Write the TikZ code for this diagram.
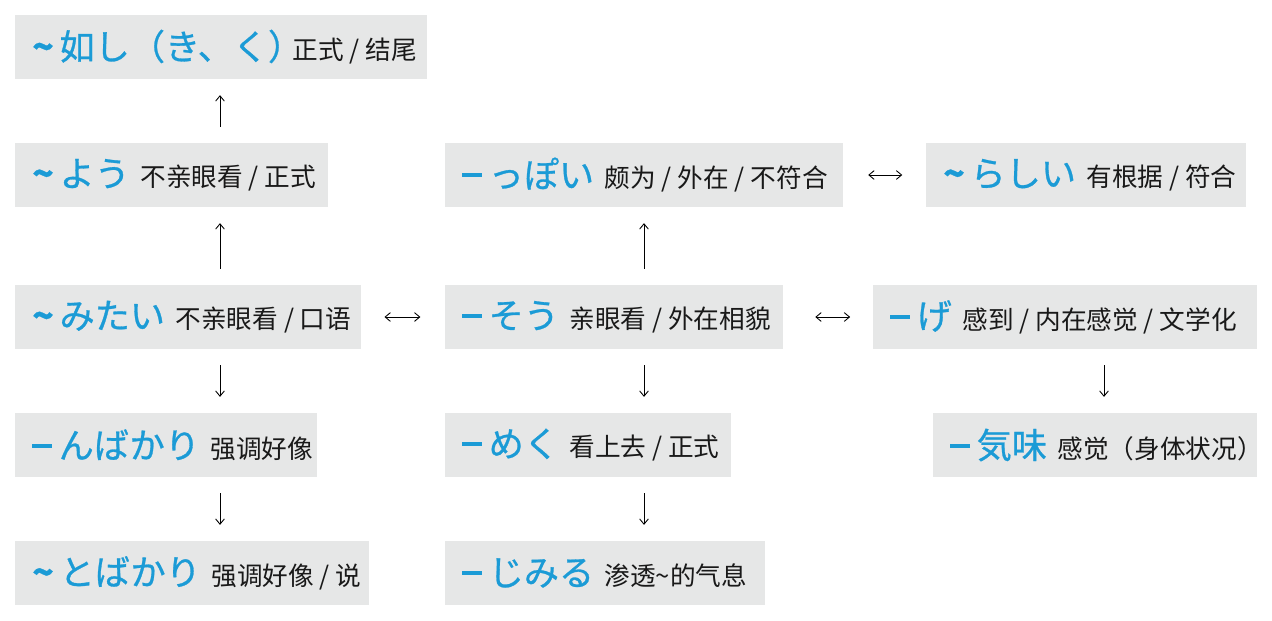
\documentclass[tikz,border=0pt]{standalone}
\usepackage{fontspec}
\setmainfont{Noto Sans CJK SC}
\newfontfamily\jpfont{Noto Sans CJK JP}[FakeBold=0.8]
\newfontfamily\scfont{Noto Sans CJK SC}
\usetikzlibrary{positioning,calc,arrows.meta}
\definecolor{kanablue}{RGB}{27,155,214}
\definecolor{boxgray}{RGB}{230,231,231}
\newcommand{\kana}[1]{{\jpfont\fontsize{20}{22}\selectfont\color{kanablue}#1}}
\newcommand{\expl}[1]{{\scfont\fontsize{14.6}{17}\selectfont\color{black!90}#1}}
\newcommand{\tl}{{\bfseries\textasciitilde}\,}
\newcommand{\ds}{\rule[0.3em]{0.55em}{0.11em}\hspace{0.2em}}
\newcommand{\gap}{\hspace{6pt}}
\tikzset{
  entry/.style={fill=boxgray, anchor=west, minimum height=1.28cm, inner xsep=0.34cm, align=left},
  link/.style={-{Straight Barb[length=3pt,width=5pt]}, line width=0.5pt, shorten >=9pt, shorten <=9pt},
  twoway/.style={{Straight Barb[length=3pt,width=5pt]}-{Straight Barb[length=3pt,width=5pt]}, line width=0.5pt}
}
\begin{document}
\begin{tikzpicture}[x=0.02cm, y=-0.02cm]
    \useasboundingbox (0,0) rectangle (1272,620);
    % Left column
    \node[entry, text width=7.56cm] (gotoshi) at (15,47) {\mbox{\kana{\tl 如し（き、く）\hspace{-0.3em}}\expl{正式 / 结尾}}};
    \node[entry, text width=5.58cm] (you) at (15,175) {\mbox{\kana{\tl よう}\gap\expl{不亲眼看 / 正式}}};
    \node[entry, text width=6.24cm] (mitai) at (15,317) {\mbox{\kana{\tl みたい}\gap\expl{不亲眼看 / 口语}}};
    \node[entry, text width=5.36cm] (nbakari) at (15,445) {\mbox{\kana{\ds んばかり}\gap\expl{强调好像}}};
    \node[entry, text width=6.40cm] (tobakari) at (15,573) {\mbox{\kana{\tl とばかり}\gap\expl{强调好像 / 说}}};
    % Middle column
    \node[entry, text width=7.28cm] (ppoi) at (445,175) {\mbox{\kana{\ds っぽい}\gap\expl{颇为 / 外在 / 不符合}}};
    \node[entry, text width=6.08cm] (sou) at (445,317) {\mbox{\kana{\ds そう}\gap\expl{亲眼看 / 外在相貌}}};
    \node[entry, text width=5.04cm] (meku) at (445,445) {\mbox{\kana{\ds めく}\gap\expl{看上去 / 正式}}};
    \node[entry, text width=5.72cm] (jimiru) at (445,573) {\mbox{\kana{\ds じみる}\gap\expl{渗透\textasciitilde 的气息}}};
    % Right column
    \node[entry, text width=5.72cm] (rashii) at (926,175) {\mbox{\kana{\tl らしい}\gap\expl{有根据 / 符合}}};
    \node[entry, text width=7.00cm] (ge) at (873,317) {\mbox{\kana{\ds げ}\gap\expl{感到 / 内在感觉 / 文学化}}};
    \node[entry, text width=5.80cm] (kimi) at (933,445) {\mbox{\kana{\ds 気味}\gap\expl{感觉（身体状况）}}};
    % Arrows
    \coordinate (colL) at (220,0);
    \coordinate (colM) at (644,0);
    \coordinate (colR) at (1104,0);
    \draw[link] (you.north -| colL) -- (gotoshi.south -| colL);
    \draw[link] (mitai.north -| colL) -- (you.south -| colL);
    \draw[link] (mitai.south -| colL) -- (nbakari.north -| colL);
    \draw[link] (nbakari.south -| colL) -- (tobakari.north -| colL);
    \draw[link] (sou.north -| colM) -- (ppoi.south -| colM);
    \draw[link] (sou.south -| colM) -- (meku.north -| colM);
    \draw[link] (meku.south -| colM) -- (jimiru.north -| colM);
    \draw[link] (ge.south -| colR) -- (kimi.north -| colR);
    \draw[twoway, shorten <=13pt, shorten >=14pt] (mitai.east) -- (sou.west);
    \draw[twoway, shorten <=18pt, shorten >=13pt] (sou.east) -- (ge.west);
    \draw[twoway, shorten <=14pt, shorten >=13.5pt] (ppoi.east) -- (rashii.west);
\end{tikzpicture}
\end{document}
